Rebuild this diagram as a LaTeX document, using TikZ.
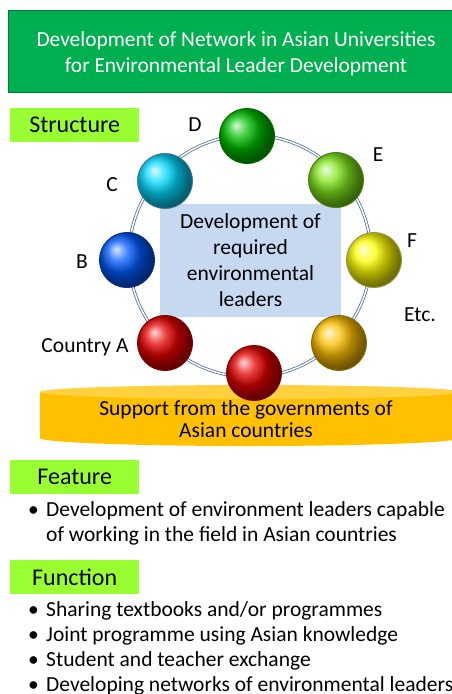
\documentclass[tikz,border=0pt]{standalone}
\usepackage{fontspec}
\setmainfont{Carlito}
\usetikzlibrary{positioning}
\definecolor{titlegreen}{RGB}{0,176,80}
\definecolor{limegreen}{RGB}{153,255,51}
\definecolor{paleblue}{RGB}{198,217,240}
\definecolor{gold}{RGB}{255,192,0}
\definecolor{ringblue}{RGB}{60,90,145}
\tikzset{
    headtag/.style ={
        fill=limegreen,
        minimum width=129pt,
        minimum height=34pt,
        inner sep=0pt,
        font=\fontsize{24}{28}\selectfont
    },
    country/.style ={
        shape=circle,
        minimum size=55pt,
        inner sep=0pt,
        draw=#1!55!black,
        line width=1pt,
        ball color=#1
    },
    ctyname/.style ={
        font=\fontsize{21.5}{24}\selectfont,
        inner sep=0pt
    },
    bulletlist/.style ={
        anchor=north west,
        align=left,
        inner sep=0pt,
        font=\fontsize{21.5}{25}\selectfont
    }
}

\begin{document}
\begin{tikzpicture}[x=1pt,y=-1pt]
    \useasboundingbox (0,0) rectangle (452,694);
    \begin{scope}
    \clip (0,0) rectangle (452,694);
    % title banner
    \node[fill=titlegreen, draw=titlegreen!70!black, minimum width=462pt, minimum height=82pt,
          anchor=north west, inner sep=0pt] (banner) at (8,10) {};
    \node[text=white, align=center, font=\fontsize{21.4}{26}\selectfont] (title) at (236,54)
        {Development of Network in Asian Universities\\for Environmental Leader Development};
    \node[headtag, anchor=north west] (structure) at (10,108) {Structure};
    % ring of countries
    \draw[ringblue, line width=0.7pt, double=white, double distance=1.6pt] (250,256) circle (121pt);
    \node[fill=paleblue, minimum width=181pt, minimum height=113pt, align=center,
          font=\fontsize{21.5}{26}\selectfont] (goal) at (250.5,260.5)
        {Development of\\required\\environmental\\leaders};
    % support from governments
    \fill[gold] (40,392) rectangle (460,438);
    \fill[gold] (250,438) ellipse [x radius=210pt, y radius=8pt];
    \fill[gold!75!white] (250,392) ellipse [x radius=210pt, y radius=7pt];
    \node[country=red!90!black] (cA) at (165,343) {};
    \node[country=blue!65!cyan] (cB) at (127,260) {};
    \node[country=cyan!85!blue] (cC) at (165,181) {};
    \node[country=green!75!black] (cD) at (247,136) {};
    \node[country=green!50!yellow!80!gray] (cE) at (336,180) {};
    \node[country=yellow] (cF) at (374,260) {};
    \node[country=gold] (cG) at (339,343) {};
    \node[country=red!90!black] (cH) at (254,373) {};
    \node[align=center, font=\fontsize{21.5}{22}\selectfont] (support) at (246,419)
        {Support from the governments of\\Asian countries};
    \node[ctyname] (lA) at (85,347) {Country A};
    \node[ctyname] (lB) at (82,262) {B};
    \node[ctyname] (lC) at (112,185) {C};
    \node[ctyname] (lD) at (195,125) {D};
    \node[ctyname] (lE) at (378,155) {E};
    \node[ctyname] (lF) at (412,241) {F};
    \node[ctyname] (lG) at (420,315) {Etc.};
    % feature
    \node[headtag, anchor=north west] (feature) at (10,460) {Feature};
    \node[bulletlist] (featitem) at (28,501)
        {\makebox[18pt][l]{\textbullet}Development of environment leaders capable\\
         \hspace*{18pt}of working in the field in Asian countries};
    % function
    \node[headtag, anchor=north west] (function) at (10,560) {Function};
    \node[bulletlist] (funcitem) at (28,601)
        {\makebox[18pt][l]{\textbullet}Sharing textbooks and/or programmes\\
         \makebox[18pt][l]{\textbullet}Joint programme using Asian knowledge\\
         \makebox[18pt][l]{\textbullet}Student and teacher exchange\\
         \makebox[18pt][l]{\textbullet}Developing networks of environmental leaders};
    \end{scope}
\end{tikzpicture}
\end{document}
